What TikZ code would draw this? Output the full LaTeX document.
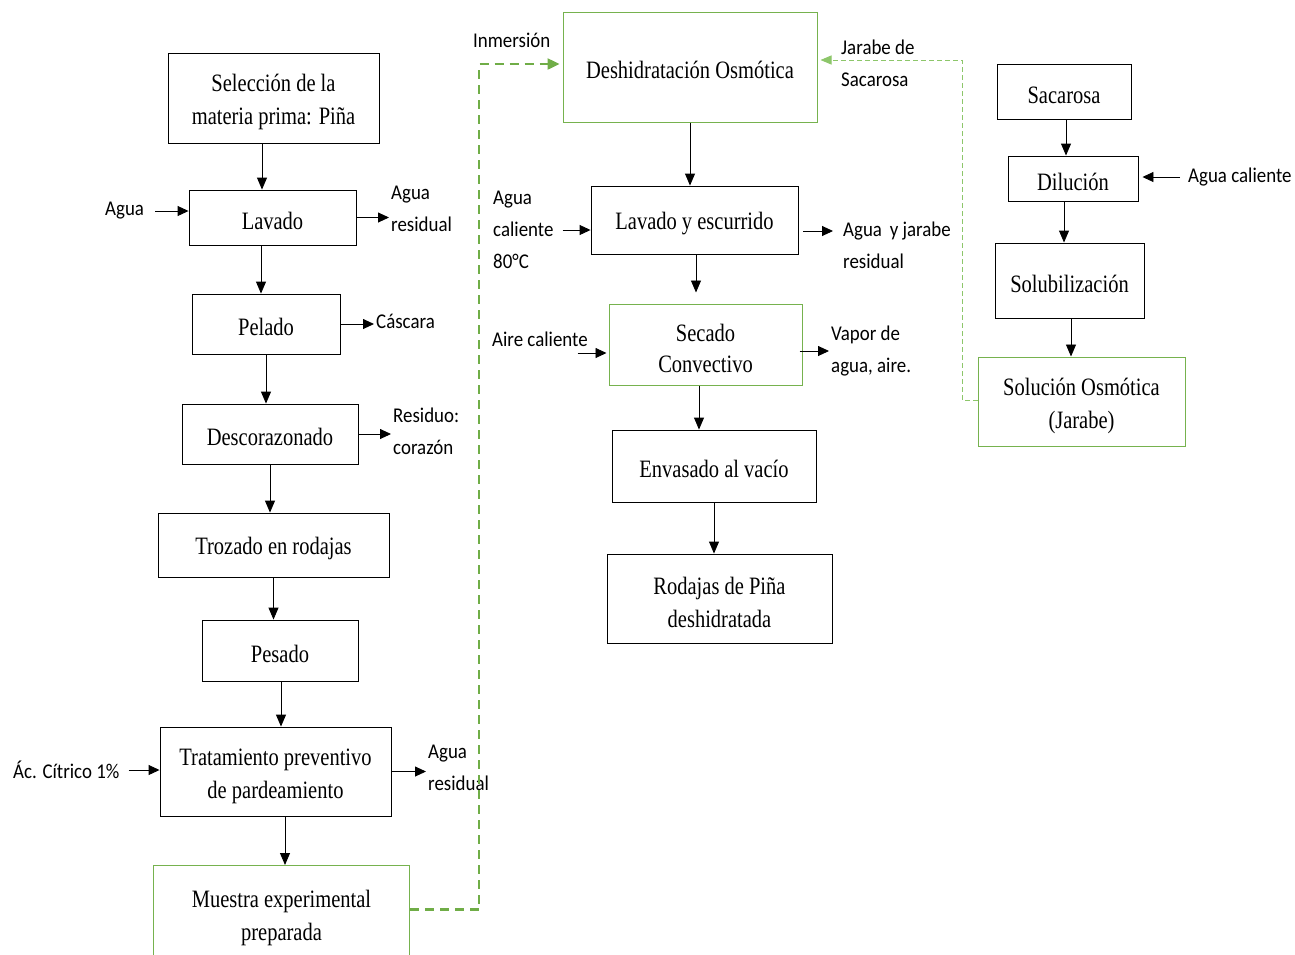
\documentclass[tikz,border=0pt]{standalone}
\usepackage{fontspec}
\usetikzlibrary{arrows.meta,calc}
\newfontfamily\boxfont[FakeStretch=0.82]{Liberation Serif}
\newfontfamily\lblfont[FakeStretch=0.9]{Carlito}
\newcommand\mystrut{\rule{0pt}{26pt}}
\definecolor{gline}{HTML}{76B24E}
\definecolor{gdark}{HTML}{70AD47}
\definecolor{glight}{HTML}{8DC66A}
\begin{document}
\begin{tikzpicture}[x=1pt,y=-1pt,
  box/.style={draw=black, line width=0.9pt, align=center, inner sep=2pt,
    font=\boxfont\fontsize{25}{33}\selectfont,
    execute at begin node={\rule{0pt}{24pt}}},
  gbox/.style={box, draw=gline, line width=1pt},
  lbl/.style={align=left, inner sep=2pt, font=\lblfont\fontsize{21}{32}\selectfont},
  arr/.style={-{Triangle[length=12pt,width=10pt]}, line width=0.9pt},
  sarr/.style={-{Triangle[length=11pt,width=10pt]}, line width=0.9pt},
  gthick/.style={gdark, line width=2.4pt, dash pattern=on 9pt off 6pt,
    -{Triangle[length=12pt,width=11pt]}},
  gthin/.style={glight, line width=1pt, dash pattern=on 5pt off 3pt,
    -{Triangle[length=11pt,width=9pt]}}
]
\useasboundingbox (0,0) rectangle (1295,954);
\clip (0,0) rectangle (1295,954);

% left column
\node[box, minimum width=211pt, minimum height=90pt] (sel) at (273.5,98) {\mystrut Selección de la\\materia prima: Piña};
\node[box, minimum width=167pt, minimum height=55pt] (lav) at (272.5,217.5) {Lavado};
\node[box, minimum width=148pt, minimum height=60pt] (pel) at (266,324) {Pelado};
\node[box, minimum width=176pt, minimum height=60pt] (desc) at (270,434) {Descorazonado};
\node[box, minimum width=231pt, minimum height=64pt] (troz) at (273.5,545) {Trozado en rodajas};
\node[box, minimum width=156pt, minimum height=61pt] (pes) at (280,650.5) {Pesado};
\node[box, minimum width=231pt, minimum height=89pt] (trat) at (275.5,771.5) {\mystrut Tratamiento preventivo\\de pardeamiento};
\node[gbox, minimum width=256pt, minimum height=96pt] (mues) at (281.5,913.5) {\mystrut Muestra experimental\\preparada};

% middle column
\node[gbox, minimum width=254pt, minimum height=110pt] (desh) at (690,67) {Deshidratación Osmótica};
\node[box, minimum width=207pt, minimum height=68pt] (lavesc) at (694.5,220) {Lavado y escurrido};
\node[gbox, minimum width=193pt, minimum height=81pt] (sec) at (705.5,344.5) {\mystrut Secado\\[-2pt]Convectivo};
\node[box, minimum width=204pt, minimum height=72pt] (env) at (714,466) {Envasado al vacío};
\node[box, minimum width=225pt, minimum height=89pt] (rod) at (719.5,598.5) {\mystrut Rodajas de Piña\\deshidratada};

% right column
\node[box, minimum width=134pt, minimum height=55pt] (sac) at (1064,91.5) {Sacarosa};
\node[box, minimum width=130pt, minimum height=45pt] (dil) at (1073,178.5) {Dilución};
\node[box, minimum width=149pt, minimum height=75pt] (solub) at (1069.5,280.5) {Solubilización};
\node[gbox, minimum width=207pt, minimum height=89pt] (solos) at (1081.5,401.5) {\mystrut Solución Osmótica\\(Jarabe)};

% labels
\node[lbl, anchor=west] (agua1) at (103,211) {Agua};
\node[lbl, anchor=west] (res1) at (389,209) {Agua\\residual};
\node[lbl, anchor=west] (casc) at (374,321) {Cáscara};
\node[lbl, anchor=west] (resid) at (391,431) {Residuo:\\corazón};
\node[lbl, anchor=west] (acido) at (11,770) {Ác. Cítrico 1\%};
\node[lbl, anchor=west] (res2) at (426,768) {Agua\\residual};
\node[lbl, anchor=west] (agcal) at (491,230) {Agua\\caliente\\80°C};
\node[lbl, anchor=west] (ajres) at (841,245) {Agua\, y jarabe\\residual};
\node[lbl, anchor=west] (aire) at (490,339) {Aire caliente};
\node[lbl, anchor=west] (vapor) at (829,351) {Vapor de\\agua, aire.};
\node[lbl, anchor=west] (agcal2) at (1186,177) {Agua caliente};
\node[lbl, anchor=west] (inm) at (471,40) {Inmersión};
\node[lbl, anchor=west] (jarab) at (839,63) {Jarabe de\\Sacarosa};

% vertical flow arrows
\draw[arr] ([xshift=-11.5pt]sel.south) -- ([xshift=-11.5pt]sel.south |- lav.north);
\draw[arr] ([xshift=-11.5pt]lav.south) -- ([xshift=-11.5pt]lav.south |- pel.north);
\draw[arr] (pel.south) -- (pel.south |- desc.north);
\draw[arr] (desc.south) -- (desc.south |- troz.north);
\draw[arr] (troz.south) -- (troz.south |- pes.north);
\draw[arr] ([xshift=1pt]pes.south) -- ([xshift=1pt]pes.south |- trat.north);
\draw[arr] ([xshift=9.5pt]trat.south) -- ([xshift=9.5pt]trat.south |- mues.north);
\draw[arr] (desh.south) -- (desh.south |- lavesc.north);
\draw[arr] ([xshift=1.5pt]lavesc.south) -- ([xshift=1.5pt,yshift=11pt]lavesc.south |- sec.north);
\draw[arr] ([xshift=-6.5pt]sec.south) -- ([xshift=-6.5pt]sec.south |- env.north);
\draw[arr] (env.south) -- (env.south |- rod.north);
\draw[arr] ([xshift=2pt]sac.south) -- ([xshift=2pt]sac.south |- dil.north);
\draw[arr] ([xshift=-9pt]dil.south) -- ([xshift=-9pt]dil.south |- solub.north);
\draw[arr] ([xshift=1.5pt]solub.south) -- ([xshift=1.5pt]solub.south |- solos.north);

% side arrows (inputs)
\draw[sarr, shorten <=9pt] (agua1.east) -- (agua1.east -| lav.west);
\draw[sarr, shorten <=7pt] (acido.east) -- (acido.east -| trat.west);
\draw[sarr, shorten <=7pt] (agcal.east) -- (agcal.east -| lavesc.west);
\draw[sarr] ([xshift=-31pt,yshift=-8.5pt]sec.west) -- ([xshift=-2pt,yshift=-8.5pt]sec.west);
\draw[sarr, shorten <=6pt, shorten >=4pt] (agcal2.west) -- (agcal2.west -| dil.east);

% side arrows (outputs)
\draw[sarr] (lav.east) -- (lav.east -| res1.west);
\draw[sarr] (pel.east) -- (pel.east -| casc.west);
\draw[sarr] (desc.east) -- (desc.east -| resid.west);
\draw[sarr] (trat.east) -- (trat.east -| res2.west);
\draw[sarr, shorten >=8pt] ([xshift=5pt,yshift=-11pt]lavesc.east) -- ([yshift=-11pt]lavesc.east -| ajres.west);
\draw[sarr] ([xshift=-3pt,yshift=-6.5pt]sec.east) -- ([yshift=-6.5pt]sec.east -| vapor.west);

% green dashed connectors
\coordinate (c1) at (479,64);
\coordinate (c2) at (962,60);
\draw[gthick] ([yshift=4pt]mues.east) -| (c1) -- ([xshift=-3pt]c1 -| desh.west);
\draw[gthin] ([yshift=1.5pt]solos.west) -| (c2) -- ([xshift=3pt]c2 -| desh.east);
\end{tikzpicture}
\end{document}
